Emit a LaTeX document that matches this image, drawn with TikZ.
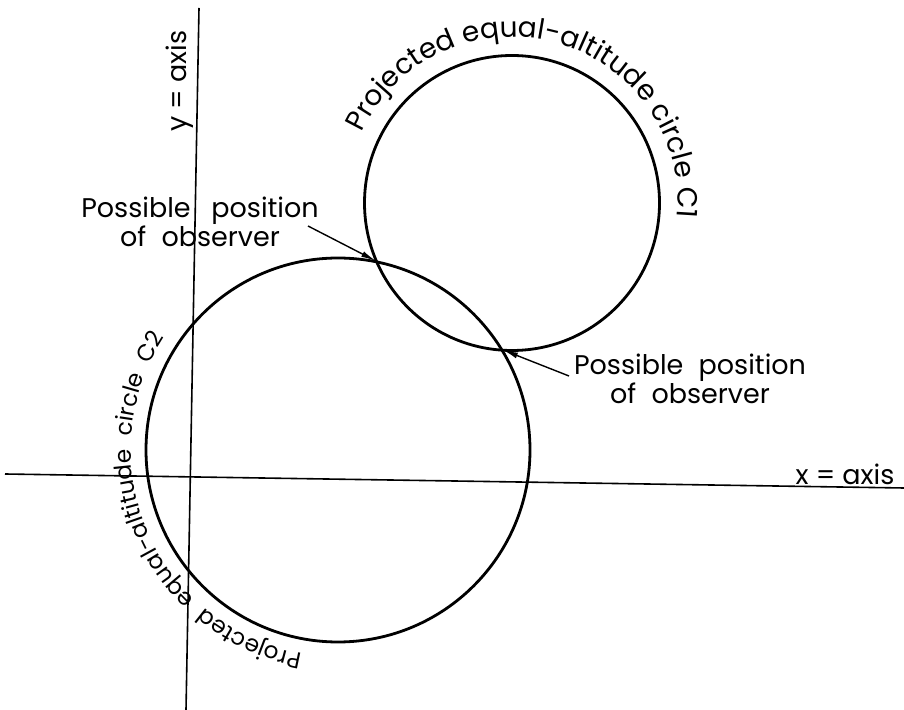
\documentclass[tikz,border=0pt]{standalone}
\usepackage{fontspec}
\setmainfont{Poppins}
\usetikzlibrary{arrows.meta,decorations.text,calc}
\newcommand\labfont{\fontsize{13.5}{12}\selectfont}
\newcommand\ctextA{\fontsize{14}{14}\selectfont}
\newcommand\ctextB{\fontsize{11.6}{11.6}\selectfont}
\begin{document}
\begin{tikzpicture}[x=0.5pt,y=-0.5pt,
  axisline/.style={line width=0.8pt},
  circ/.style={line width=1.4pt},
  pointer/.style={line width=0.7pt,-{Latex[length=7.5pt,width=3pt]}},
  lab/.style={font=\labfont, align=center, inner sep=0pt},
  axlab/.style={font=\fontsize{13.5}{14}\selectfont, inner sep=0pt},
]
\useasboundingbox (0,0) rectangle (904,710);
% axes
\coordinate (xa) at (5,474);
\coordinate (xb) at (904,488);
\coordinate (ya) at (199,8);
\coordinate (yb) at (186,710);
\draw[axisline] (xa) -- (xb);
\draw[axisline] (ya) -- (yb);
\node[axlab] (xlab) at (845,474) {x = axis};
\node[axlab, rotate=90] (ylab) at (180,81) {y = axis};
% circles
\coordinate (c1) at (512,203);
\coordinate (c2) at (338,450);
\draw[circ] (c1) circle[radius=147.5];
\draw[circ] (c2) circle[radius=192];
% curved labels
\path[decorate, decoration={text along path,
    text={|\ctextA|Projected equal-altitude circle C1},
    text align={fit to path stretching spaces}}]
  ($(c1)+(205:166)$) arc[start angle=205, end angle=365, radius=166];
\path[decorate, decoration={text along path,
    text={|\ctextB|Projected equal-altitude circle C2},
    text align={fit to path stretching spaces}}]
  ($(c2)+(100:207)$) arc[start angle=100, end angle=213, radius=207];
% observer positions
\coordinate (p1) at (376,261);
\coordinate (p2) at (503,350);
\node[lab] (obs1) at (200,222) {Possible\hspace{0.5em} position\\of\hspace{0.3em} observer};
\node[lab] (obs2) at (690,379) {Possible\hspace{0.3em} position\\of\hspace{0.3em} observer};
\coordinate (s1) at (308,226);
\coordinate (s2) at (569,376);
\draw[pointer] (s1) -- (p1);
\draw[pointer] (s2) -- (p2);
\end{tikzpicture}
\end{document}
